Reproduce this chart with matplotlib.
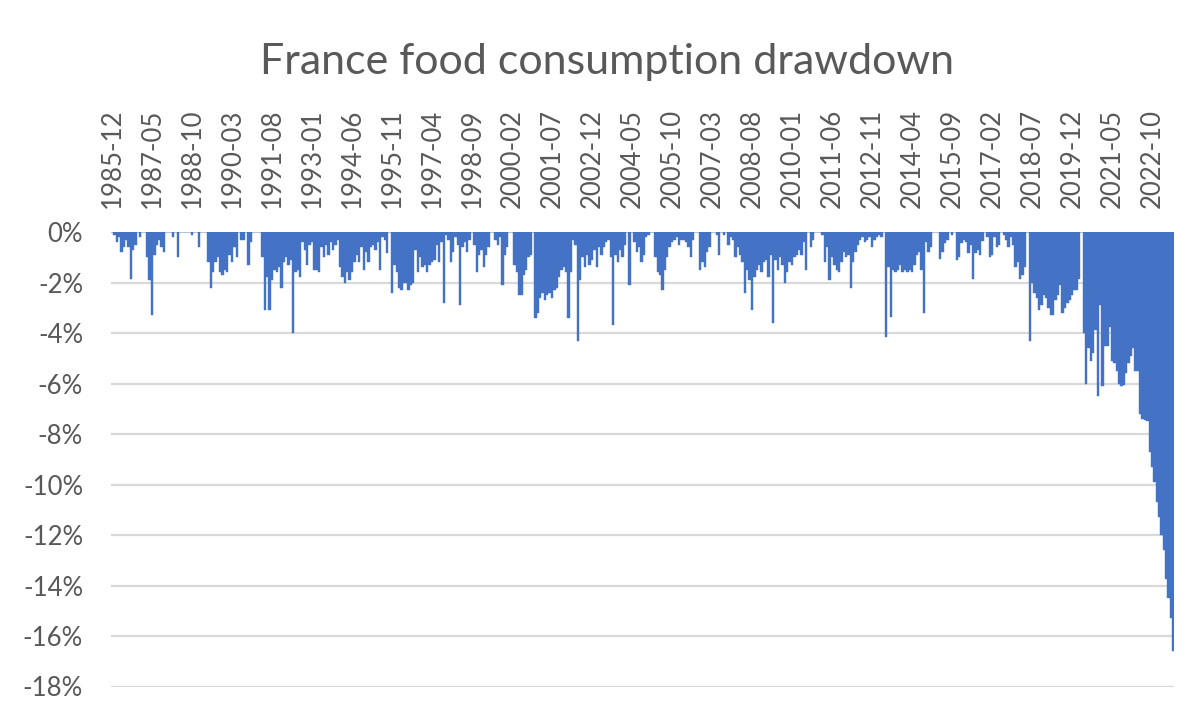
import matplotlib
matplotlib.use("Agg")
import matplotlib.pyplot as plt
import numpy as np
import pandas as pd

# ---- data: monthly drawdown (%) of French food consumption, 1985-12 .. 2023-07 ----
start_month = "1985-12"
dd_1985_1995 = [
    0, -0.1, -0.4, -0.2, -0.8, -0.6, -0.3, -0.6, -1.85, -0.7,
    -0.5, 0, -0.2, 0, 0, -1.0, -1.9, -3.3, -0.9, -0.5,
    -0.3, -0.6, -0.8, 0, 0, 0, -0.2, 0, -1.0, 0,
    0, 0, 0, 0, -0.1, 0, 0, -0.6, 0, 0,
    0, -1.2, -2.2, -1.6, -1.2, -1.0, -1.6, -1.7, -1.5, -1.6,
    -0.9, -1.2, -0.6, -1.0, 0, -0.3, -0.3, 0, -1.3, -0.4,
    0, 0, 0, 0, -1.0, -3.1, -1.8, -3.1, -1.9, -1.5,
    -1.6, -1.4, -2.2, -1.2, -1.0, -1.3, -1.1, -4.0, -1.6, -1.5,
    -1.8, -0.4, -0.7, -1.3, -0.5, -0.4, -1.5, -1.5, -1.6, -0.6,
    -1.0, -0.5, -0.9, -0.4, -0.7, -0.5, -0.3, -1.4, -1.8, -2.0,
    -1.6, -1.9, -1.6, -1.2, -0.9, -1.2, -0.6, -1.5, -0.8, -1.2,
    -0.6, -0.5, -0.7, -0.4,
]
dd_1995_2004 = [
    -1.5, -0.2, -0.3, -0.85, 0, -2.4,
    -1.3, -1.6, -2.2, -2.3, -2.0, -2.0, -2.3, -2.1, -2.0, -0.7,
    -1.6, -1.0, -1.4, -1.3, -1.6, -1.3, -1.2, -1.1, -0.5, -1.2,
    -0.4, -2.8, -0.1, -0.3, -1.2, -0.8, -0.2, -0.5, -2.9, -0.6,
    -0.4, -0.8, -0.3, 0, -0.5, -1.6, -0.9, -0.7, -1.4, -0.9,
    -0.6, 0, 0, -0.3, -0.5, -0.2, -2.1, -0.9, -0.6, 0,
    0, -1.3, -1.6, -2.5, -2.5, -1.7, -1.5, -1.0, -0.9, 0,
    -3.4, -3.2, -2.6, -2.4, -2.7, -2.5, -2.4, -2.6, -2.3, -2.2,
    -1.8, -1.5, -1.4, -1.6, -3.4, -1.6, -0.3, -0.5, -4.3, -1.9,
    -1.0, -1.4, -0.9, -1.3, -1.1, -0.7, -1.4, -0.6, -0.9, -0.6,
    -0.4, -0.3, -1.0, -3.7, -0.9, -1.2, -0.7, -1.0, -0.5, 0,
    -2.1, 0, -0.4, -0.8, -0.6, -1.2, -0.9, -0.2, -0.1,
]
dd_2004_2013 = [
    0,
    0, -1.0, -1.6, -1.7, -2.3, -1.5, -1.0, -0.6, -0.4, -0.3,
    -0.2, -0.5, -0.3, -0.3, -0.4, -0.6, -1.0, -0.3, 0, 0,
    -1.5, -1.2, -1.4, -0.8, -0.6, 0, 0, -0.1, -0.9, 0,
    -0.1, 0, -0.5, -0.2, -0.3, -1.0, -0.6, -0.9, -1.2, -2.4,
    -1.5, -1.9, -3.1, -1.8, -1.5, -1.3, -1.6, -1.2, -1.1, -1.8,
    -0.9, -3.6, -1.1, -1.5, -1.0, -1.3, -2.0, -1.6, -1.2, -1.3,
    -1.0, -0.9, -0.7, -0.9, -0.4, -1.5, 0, -0.6, -0.3, 0,
    0, 0, -0.1, -1.2, -0.6, -1.9, -1.0, -1.3, -1.5, -1.6,
    -1.2, -0.8, -1.0, -0.9, -2.2, -1.2, -0.8, -0.5, -0.3, -0.2,
    -0.4, -0.3, -0.2, -0.6, -0.3, -0.2, -0.1, -0.2, 0, -4.15,
    -1.4, -3.35, -1.5, -1.6, -1.5,
]
dd_2013_2023 = [
    -1.3, -1.6, -1.5, -1.6, -1.5,
    -1.6, -1.3, -0.9, -0.8, -1.5, -3.2, -0.4, -0.8, -0.6, 0,
    0, 0, -1.05, -0.8, -0.45, -0.3, 0, -0.1, 0, -1.1,
    -1.0, -0.45, -0.3, -0.4, -0.85, -0.5, -1.85, -0.85, -0.7, -0.9,
    -0.35, 0, -0.2, -1.0, -0.9, -0.2, -0.6, -0.5, 0, -0.1,
    -0.3, -0.6, -0.2, -0.5, -1.4, -1.2, -1.85, -1.7, -1.4, 0,
    -4.3, -2.0, -2.4, -2.6, -3.1, -2.9, -2.5, -2.6, -3.0, -3.3,
    -3.3, -2.7, -2.5, -2.1, -3.2, -3.0, -2.8, -2.7, -2.5, -2.3,
    -2.3, -1.85, 0, -4.0, -6.0, -4.6, -5.1, -4.8, -3.9, -6.5,
    -2.9, -6.1, -4.5, -4.5, -3.75, -5.1, -5.2, -5.5, -6.0, -6.1,
    -6.05, -5.6, -5.2, -4.9, -4.6, -5.5, -5.5, -7.2, -7.4, -7.45,
    -7.5, -8.7, -9.3, -9.9, -10.7, -11.3, -12.0, -12.6, -13.75, -14.5,
    -15.3, -16.6,
]
drawdown = dd_1985_1995 + dd_1995_2004 + dd_2004_2013 + dd_2013_2023
months = pd.period_range(start_month, periods=len(drawdown), freq="M").strftime("%Y-%m")
label_step = 17
y_ticks = [0, -2, -4, -6, -8, -10, -12, -14, -16, -18]

# ---- styling ----
BAR = "#4472C4"
TXT = "#595959"
GRID = "#D9D9D9"
FONT = ["Lato", "DejaVu Sans"]
plt.rcParams["font.family"] = FONT

W, H = 1202, 720
fig = plt.figure(figsize=(W / 100, H / 100), dpi=100)
ax = fig.add_axes([110.8 / W, 1 - 686.5 / H, (1174.4 - 110.8) / W, (686.5 - 232) / H])

x = np.arange(len(drawdown))
ax.bar(x, drawdown, width=1.0, color=BAR, edgecolor=BAR, linewidth=0.3, zorder=3)

ax.set_xlim(-0.5, len(drawdown) - 0.5)
ax.set_ylim(-18, 0)
ax.set_yticks(y_ticks)
ax.set_yticklabels([f"{v}%" for v in y_ticks])
ax.yaxis.grid(True, color=GRID, linewidth=1.6, zorder=0)
ax.set_axisbelow(True)

tick_pos = x[::label_step]
ax.set_xticks(tick_pos)
ax.set_xticklabels([months[i] for i in tick_pos], rotation=90)
ax.xaxis.tick_top()
ax.tick_params(axis="x", length=0, pad=17, labelsize=18.5, labelcolor=TXT)
ax.tick_params(axis="y", length=0, pad=20, labelsize=18.5, labelcolor=TXT)
for lab in ax.get_xticklabels():
    lab.set_va("bottom")
    lab.set_ha("center")
for s in ax.spines.values():
    s.set_visible(False)

fig.text(607 / W, 1 - 74 / H, "France food consumption drawdown",
         ha="center", va="baseline", fontsize=31, color=TXT)

fig.savefig("out.png", dpi=100, facecolor="white")
